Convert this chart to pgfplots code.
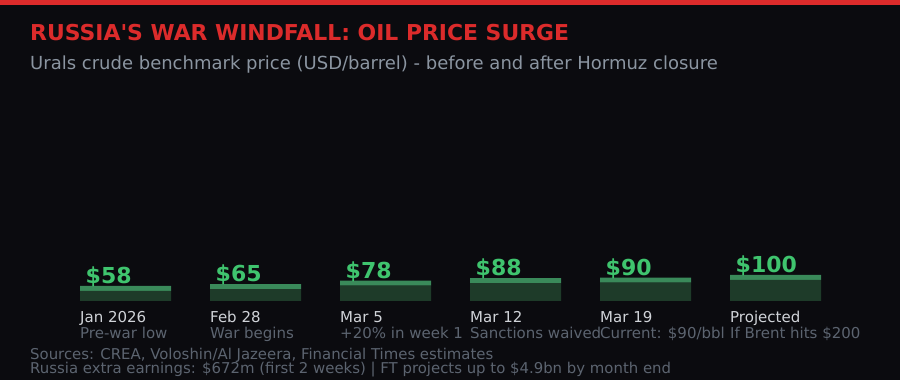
\documentclass[border=0pt]{standalone}
\usepackage{pgfplots}
\pgfplotsset{compat=1.18}
\usepackage{pgfplotstable}
\usepackage{fontspec}
\setmainfont{DejaVu Sans}[Ligatures=TeXOff]
\definecolor{bg}{HTML}{0B0B0F}
\definecolor{topred}{HTML}{DC2B2B}
\definecolor{subt}{HTML}{8B95A1}
\definecolor{barbody}{HTML}{1E3B29}
\definecolor{barstrip}{HTML}{3A8A5A}
\definecolor{valgreen}{HTML}{3FC46E}
\definecolor{lab}{HTML}{D0D3D8}
\definecolor{sublab}{HTML}{5C6470}
\pgfplotstableread{
x v
0 58
1 65
2 78
3 88
4 90
5 100
}\prices
\begin{document}
\begin{tikzpicture}[x=1pt,y=1pt]
\fill[bg] (0,0) rectangle (900,380);
\fill[topred] (0,375) rectangle (900,380);
\node[anchor=base west,inner sep=0,text=topred,font=\fontsize{21.9}{25}\selectfont\bfseries] at (30,339) {RUSSIA'S WAR WINDFALL: OIL PRICE SURGE};
\node[anchor=base west,inner sep=0,text=subt,font=\fontsize{18}{21}\selectfont] at (30,310) {Urals crude benchmark price (USD/barrel) - before and after Hormuz closure};
\begin{axis}[
  at={(60.5pt,79pt)}, anchor=south west,
  scale only axis, width=780pt, height=52pt,
  xmin=-0.5, xmax=5.5, ymin=0, ymax=200,
  axis lines=none, clip=false,
  ybar stacked, bar width=91pt,
]
\addplot[fill=barbody, draw=none] table[x=x, y expr=\thisrow{v}-19.2] {\prices};
\addplot[fill=barstrip, draw=none,
  point meta=explicit symbolic,
  nodes near coords={\$\pgfplotspointmeta},
  every node near coord/.append style={anchor=base west, inner sep=0, xshift=-40pt, yshift=5pt, text=valgreen, font=\fontsize{22}{26}\selectfont\bfseries}
] table[x=x, y expr=19.2, meta=v] {\prices};
\end{axis}
\begin{scope}[every node/.style={anchor=base west,inner sep=0,font=\fontsize{15}{18}\selectfont}]
\node[text=lab] at (80,57) {Jan 2026};
\node[text=lab] at (210,57) {Feb 28};
\node[text=lab] at (340,57) {Mar 5};
\node[text=lab] at (470,57) {Mar 12};
\node[text=lab] at (600,57) {Mar 19};
\node[text=lab] at (730,57) {Projected};
\node[text=sublab] at (80,41.5) {Pre-war low};
\node[text=sublab] at (210,41.5) {War begins};
\node[text=sublab] at (340,41.5) {+20\% in week 1};
\node[text=sublab] at (470,41.5) {Sanctions waived};
\node[text=sublab] at (600,41.5) {Current: \$90/bbl};
\node[text=sublab] at (730,41.5) {If Brent hits \$200};
\node[text=sublab,font=\fontsize{14.9}{18}\selectfont] at (30,20) {Sources: CREA, Voloshin/Al Jazeera, Financial Times estimates};
\node[text=sublab,font=\fontsize{14.9}{18}\selectfont] at (30,6) {Russia extra earnings: \$672m (first 2 weeks) | FT projects up to \$4.9bn by month end};
\end{scope}
\end{tikzpicture}
\end{document}
